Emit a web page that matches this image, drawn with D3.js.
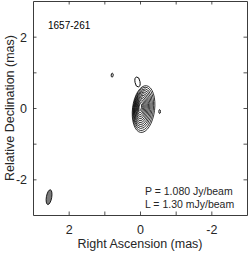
<!DOCTYPE html>
<html>
<head>
<meta charset="utf-8">
<script src="https://cdn.jsdelivr.net/npm/d3@7"></script>
<style>
  body { margin: 0; background: #fff; }
  svg { display: block; font-family: "Liberation Sans", Arial, sans-serif; }
</style>
</head>
<body>
<div id="chart"></div>
<script>
// axis ranges (mas)
var raDomain = [3, -3];
var decDomain = [-3, 3];
var tickValues = [2, 1, 0, -1, -2];
var labelValues = [2, 0, -2];

// contour levels of the core, outer to inner (mas, deg)
var coreX  = [-0.10, -0.09, -0.08, -0.07, -0.06, -0.05, -0.042, -0.034, -0.027, -0.02, -0.014, -0.008];
var coreY  = [-0.03, -0.025, -0.02, -0.015, -0.01, -0.005, 0.0, 0.005, 0.01, 0.015, 0.02, 0.025];
var coreRx = [0.31, 0.285, 0.26, 0.235, 0.21, 0.185, 0.16, 0.135, 0.11, 0.085, 0.06, 0.035];
var coreRy = [0.66, 0.61, 0.56, 0.51, 0.46, 0.41, 0.36, 0.31, 0.26, 0.21, 0.155, 0.10];
var coreAng = [7, 7, 7, 7, 7, 7, 7, 7, 7, 7, 7, 7];

// small separate contours
var blobX  = [0.07, 0.78, -0.55];
var blobY  = [0.73, 0.92, -0.10];
var blobRx = [0.07, 0.028, 0.022];
var blobRy = [0.14, 0.055, 0.055];
var blobAng = [-10, 5, 0];

// restoring beam
var beam = {x: 2.55, y: -2.5, rx: 0.075, ry: 0.21, ang: 10};

var sourceName = "1657-261";
var notes = ["P = 1.080 Jy/beam", "L = 1.30 mJy/beam"];

var W = 249, H = 254;
var padL = 33, padR = 247, padT = 1, padB = 215;

var svg = d3.select("#chart").append("svg").attr("width", W).attr("height", H);

var x = d3.scaleLinear().domain(raDomain).range([padL, padR]);
var y = d3.scaleLinear().domain(decDomain).range([padB, padT]);
var k = (padR - padL) / 6; // px per mas

var axColor = "#262626";

// axes
var gB = svg.append("g").attr("transform", "translate(0," + padB + ")")
  .call(d3.axisBottom(x).tickValues(tickValues).tickSizeInner(-3.5).tickSizeOuter(0)
    .tickFormat(function(d){ return labelValues.indexOf(d) >= 0 ? String(d) : ""; }));
var gT = svg.append("g").attr("transform", "translate(0," + padT + ")")
  .call(d3.axisTop(x).tickValues(tickValues).tickSizeInner(-3.5).tickSizeOuter(0).tickFormat(""));
var gL = svg.append("g").attr("transform", "translate(" + padL + ",0)")
  .call(d3.axisLeft(y).tickValues(tickValues).tickSizeInner(-3.5).tickSizeOuter(0)
    .tickFormat(function(d){ return labelValues.indexOf(d) >= 0 ? String(d) : ""; }));
var gR = svg.append("g").attr("transform", "translate(" + padR + ",0)")
  .call(d3.axisRight(y).tickValues(tickValues).tickSizeInner(-3.5).tickSizeOuter(0).tickFormat(""));

[gB, gT, gL, gR].forEach(function(g){
  g.select(".domain").attr("stroke", axColor).attr("stroke-width", 0.9);
  g.selectAll(".tick line").attr("stroke", axColor).attr("stroke-width", 0.8);
  g.selectAll(".tick text").attr("fill", axColor).attr("font-size", 12.5)
    .attr("font-family", "Liberation Sans, Arial, sans-serif");
});
gB.selectAll(".tick text").attr("dy", 0).attr("y", 18.5);
gL.selectAll(".tick text").attr("x", -6).attr("dy", "0.35em");

// axis titles
svg.append("text").attr("x", (padL + padR) / 2).attr("y", 248).attr("text-anchor", "middle")
  .attr("font-size", 12.5).attr("fill", axColor).text("Right Ascension (mas)");
svg.append("text").attr("transform", "translate(14," + ((padT + padB) / 2) + ") rotate(-90)")
  .attr("text-anchor", "middle").attr("font-size", 12.5).attr("fill", axColor)
  .text("Relative Declination (mas)");

// contours
function ellipse(cx, cy, rx, ry, ang) {
  return svg.append("ellipse")
    .attr("transform", "translate(" + x(cx) + "," + y(cy) + ") rotate(" + ang + ")")
    .attr("rx", rx * k).attr("ry", ry * k);
}

for (var i = 0; i < coreX.length; i++) {
  ellipse(coreX[i], coreY[i], coreRx[i], coreRy[i], coreAng[i])
    .attr("fill", "none").attr("stroke", "#000").attr("stroke-width", 0.75);
}
for (var j = 0; j < blobX.length; j++) {
  ellipse(blobX[j], blobY[j], blobRx[j], blobRy[j], blobAng[j])
    .attr("fill", "none").attr("stroke", "#000").attr("stroke-width", 0.9);
}

// beam
ellipse(beam.x, beam.y, beam.rx, beam.ry, beam.ang)
  .attr("fill", "#7a7a7a").attr("stroke", "#000").attr("stroke-width", 0.8);

// labels
svg.append("text").attr("x", 48).attr("y", 29).attr("font-size", 10).attr("fill", "#000").text(sourceName);
svg.selectAll(".note").data(notes).enter().append("text")
  .attr("x", 145).attr("y", function(d, i){ return 195 + i * 13; })
  .attr("font-size", 10.5).attr("fill", axColor).text(function(d){ return d; });
</script>
</body>
</html>
